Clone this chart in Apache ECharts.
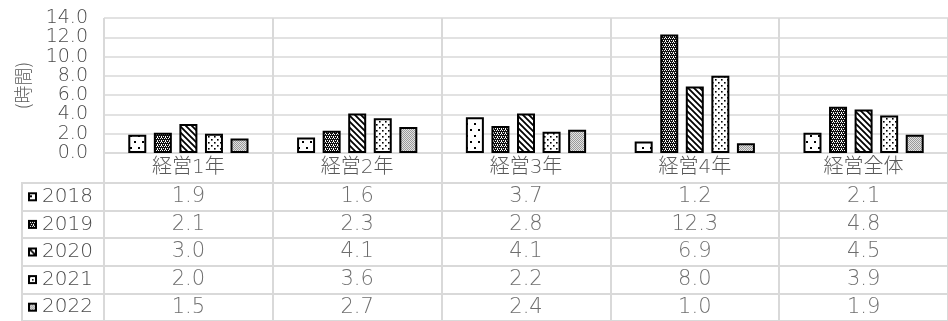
<!DOCTYPE html>
<html>
<head>
<meta charset="utf-8">
<script src="https://cdn.jsdelivr.net/npm/echarts@6/dist/echarts.min.js"></script>
<style>
html,body{margin:0;padding:0;background:#fff;}
#chart{width:948px;height:321px;}
</style>
</head>
<body>
<div id="chart"></div>
<script>
const categories = ['経営1年', '経営2年', '経営3年', '経営4年', '経営全体'];
const years = ['2018', '2019', '2020', '2021', '2022'];
const v2018 = [1.9, 1.6, 3.7, 1.2, 2.1];
const v2019 = [2.1, 2.3, 2.8, 12.3, 4.8];
const v2020 = [3.0, 4.1, 4.1, 6.9, 4.5];
const v2021 = [2.0, 3.6, 2.2, 8.0, 3.9];
const v2022 = [1.5, 2.7, 2.4, 1.0, 1.9];
const yMin = 0, yMax = 14, yStep = 2;
const yAxisName = '(時間)';

const seriesValues = [v2018, v2019, v2020, v2021, v2022];

// pattern tiles
function tile(w, h, draw) {
  const c = document.createElement('canvas');
  c.width = w; c.height = h;
  const ctx = c.getContext('2d');
  ctx.fillStyle = '#fff';
  ctx.fillRect(0, 0, w, h);
  draw(ctx, w, h);
  return c;
}
const patterns = [
  tile(8, 12, (x) => { x.fillStyle = '#000'; x.fillRect(2, 3, 2, 2); x.fillRect(6, 9, 2, 2); }),
  tile(4, 4, (x) => {
    x.fillStyle = '#111'; x.fillRect(0, 0, 4, 4);
    x.fillStyle = '#fff';
    [[1,0],[3,0],[0,2],[2,2],[1,1]].forEach(p => x.fillRect(p[0], p[1], 1, 1));
  }),
  tile(6, 6, (x) => {
    x.strokeStyle = '#000'; x.lineWidth = 1.8;
    x.beginPath();
    x.moveTo(-1, -1); x.lineTo(7, 7);
    x.moveTo(-4, 2); x.lineTo(2, 8);
    x.moveTo(2, -4); x.lineTo(8, 2);
    x.stroke();
  }),
  tile(6, 6, (x) => { x.fillStyle = '#000'; x.fillRect(1, 1, 1.6, 1.6); x.fillRect(4, 4, 1.6, 1.6); }),
  tile(2, 2, (x) => { x.fillStyle = '#9a9a9a'; x.fillRect(0, 0, 1, 1); x.fillRect(1, 1, 1, 1); x.fillStyle = '#e2e2e2'; x.fillRect(1, 0, 1, 1); x.fillRect(0, 1, 1, 1); })
];
function keyCanvas(i) {
  const c = document.createElement('canvas');
  c.width = 9; c.height = 9;
  const ctx = c.getContext('2d');
  ctx.fillStyle = ctx.createPattern(patterns[i], 'repeat');
  ctx.fillRect(0, 0, 9, 9);
  ctx.strokeStyle = '#000'; ctx.lineWidth = 2;
  ctx.strokeRect(1, 1, 7, 7);
  return c;
}
const keys = years.map((y, i) => keyCanvas(i));

const gridColor = '#d9d9d9';
const textColor = '#4a4a4a';
const fontFamily = '"DejaVu Sans", "Noto Sans CJK JP", sans-serif';
const fontWeight = 200;

const rich = { sp: { width: 5 }, t: { fontSize: 20, color: textColor, fontFamily: fontFamily, fontWeight: fontWeight } };
years.forEach((y, i) => {
  rich['k' + i] = { width: 9, height: 9, backgroundColor: { image: keys[i] } };
});

const barSeries = years.map((y, i) => ({
  name: y,
  type: 'bar',
  xAxisIndex: 0,
  yAxisIndex: 0,
  data: seriesValues[i],
  barWidth: 18,
  barGap: '42%',
  itemStyle: {
    color: { image: patterns[i], repeat: 'repeat' },
    borderColor: '#000',
    borderWidth: 2
  },
  silent: true
}));

const tableSeries = years.map((y, i) => ({
  type: 'scatter',
  xAxisIndex: 1,
  yAxisIndex: 1,
  symbolSize: 1,
  itemStyle: { color: 'rgba(0,0,0,0)' },
  data: seriesValues[i].map((v, c) => [categories[c], y, v]),
  encode: { x: 0, y: 1 },
  label: {
    show: true,
    position: 'inside',
    formatter: (p) => p.value[2].toFixed(1),
    color: textColor,
    fontSize: 21,
    fontWeight: fontWeight,
    fontFamily: fontFamily
  },
  silent: true
}));

const chart = echarts.init(document.getElementById('chart'), null, { renderer: 'canvas' });
chart.setOption({
  animation: false,
  backgroundColor: '#fff',
  textStyle: { fontFamily: fontFamily },
  grid: [
    { left: 104, top: 18, width: 850, height: 135 },
    { left: 104, top: 183, width: 850, height: 138, show: true, borderColor: gridColor, borderWidth: 2 },
    { left: 22, top: 183, width: 82, height: 138, show: true, borderColor: gridColor, borderWidth: 2 }
  ],
  xAxis: [
    {
      type: 'category', gridIndex: 0, data: categories,
      axisLine: { lineStyle: { color: gridColor, width: 1.5 } },
      axisTick: { show: true, length: 30, interval: 0, lineStyle: { color: gridColor, width: 2 } },
      axisLabel: { color: '#595959', fontSize: 20, fontWeight: fontWeight, margin: 5, interval: 0, fontFamily: fontFamily },
      splitLine: { show: true, interval: 0, lineStyle: { color: gridColor, width: 2 } }
    },
    {
      type: 'category', gridIndex: 1, data: categories,
      axisLine: { show: false }, axisTick: { show: false }, axisLabel: { show: false },
      splitLine: { show: true, interval: 0, lineStyle: { color: gridColor, width: 2 } }
    },
    { type: 'category', gridIndex: 2, data: [''], show: false }
  ],
  yAxis: [
    {
      type: 'value', gridIndex: 0, min: yMin, max: yMax, interval: yStep,
      axisLine: { show: false }, axisTick: { show: false },
      axisLabel: {
        color: textColor, fontSize: 19, lineHeight: 15, fontWeight: fontWeight, margin: 16,
        showMinLabel: true, showMaxLabel: true, hideOverlap: false,
        formatter: (v) => v.toFixed(1), fontFamily: fontFamily
      },
      splitLine: { lineStyle: { color: gridColor, width: 1.5 } },
      name: yAxisName, nameLocation: 'middle', nameRotate: 90, nameGap: 72, nameMoveOverlap: false,
      nameTextStyle: { color: '#595959', fontSize: 18, fontWeight: fontWeight, fontFamily: '"Noto Sans CJK JP", sans-serif' }
    },
    {
      type: 'category', gridIndex: 1, data: years, inverse: true,
      axisLine: { show: false }, axisTick: { show: false }, axisLabel: { show: false },
      splitLine: { show: true, interval: 0, lineStyle: { color: gridColor, width: 2 } }
    },
    {
      type: 'category', gridIndex: 2, data: years, inverse: true,
      axisLine: { show: false }, axisTick: { show: false },
      axisLabel: {
        inside: true, margin: 6, interval: 0,
        formatter: (v, idx) => '{k' + idx + '|}{sp|}{t|' + v + '}',
        rich: rich
      },
      splitLine: { show: true, interval: 0, lineStyle: { color: gridColor, width: 2 } }
    }
  ],
  series: barSeries.concat(tableSeries)
});
</script>
</body>
</html>
